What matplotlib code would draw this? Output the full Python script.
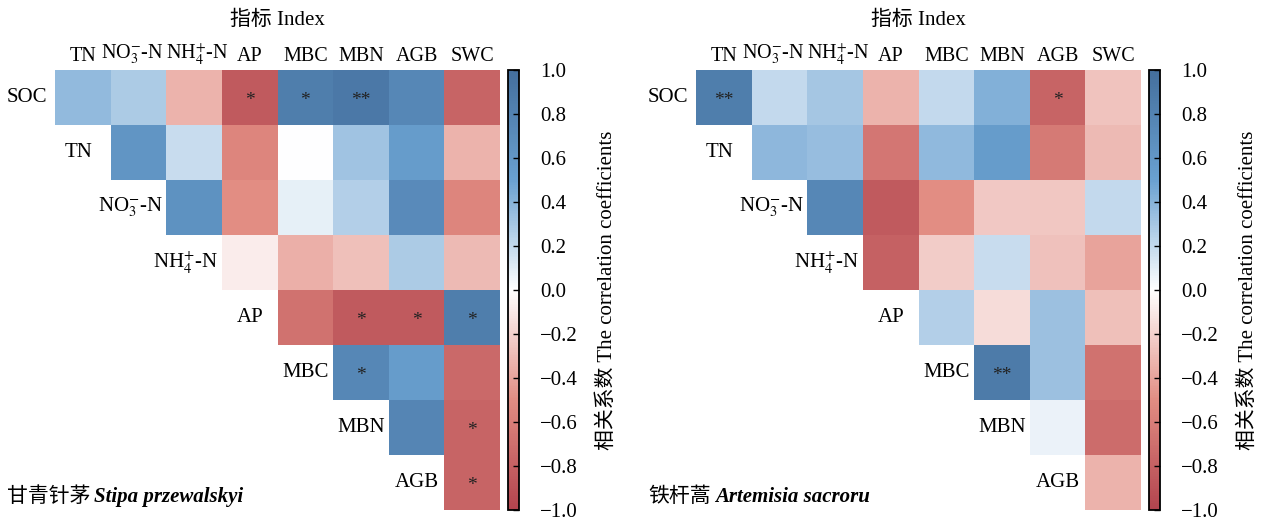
import matplotlib
matplotlib.use("Agg")
import matplotlib.pyplot as plt
import matplotlib.transforms as mtransforms
import numpy as np
from matplotlib.colors import LinearSegmentedColormap

plt.rcParams['font.family'] = ['Liberation Serif', 'Noto Sans CJK SC']
plt.rcParams['mathtext.fontset'] = 'stix'

# column / row names
cols = ['TN', 'NO$_3^{-}$-N', 'NH$_4^{+}$-N', 'AP', 'MBC', 'MBN', 'AGB', 'SWC']
rows = ['SOC', 'TN', 'NO$_3^{-}$-N', 'NH$_4^{+}$-N', 'AP', 'MBC', 'MBN', 'AGB']
ticks = [-1.0, -0.8, -0.6, -0.4, -0.2, 0.0, 0.2, 0.4, 0.6, 0.8, 1.0]

# upper triangle values, row i starts at column i
stipa_r = [
    [0.36, 0.28, -0.33, -0.85, 0.85, 0.90, 0.75, -0.78],
    [0.62, 0.18, -0.55, 0.00, 0.32, 0.55, -0.33],
    [0.65, -0.50, 0.08, 0.25, 0.72, -0.55],
    [-0.08, -0.35, -0.28, 0.28, -0.30],
    [-0.68, -0.85, -0.85, 0.85],
    [0.75, 0.55, -0.75],
    [0.78, -0.78],
    [-0.78],
]
stipa_sig = [
    ['', '', '', '*', '*', '**', '', ''],
    ['', '', '', '', '', '', ''],
    ['', '', '', '', '', ''],
    ['', '', '', '', ''],
    ['', '*', '*', '*'],
    ['*', '', ''],
    ['', '*'],
    ['*'],
]

artem_r = [
    [0.85, 0.20, 0.30, -0.33, 0.20, 0.42, -0.78, -0.26],
    [0.38, 0.35, -0.65, 0.37, 0.55, -0.63, -0.30],
    [0.75, -0.85, -0.50, -0.24, -0.25, 0.20],
    [-0.80, -0.22, 0.18, -0.27, -0.40],
    [0.25, -0.15, 0.33, -0.28],
    [0.88, 0.33, -0.68],
    [0.07, -0.72],
    [-0.33],
]
artem_sig = [
    ['**', '', '', '', '', '', '*', ''],
    ['', '', '', '', '', '', ''],
    ['', '', '', '', '', ''],
    ['', '', '', '', ''],
    ['', '', '', ''],
    ['**', '', ''],
    ['', ''],
    [''],
]

cmap = LinearSegmentedColormap.from_list('corr', [
    (0.0, '#b2444e'), (0.25, '#e28d83'), (0.5, '#ffffff'),
    (0.75, '#6aa1d1'), (1.0, '#446f9d')])

fig = plt.figure(figsize=(12.61, 5.2), dpi=100)
W, H = 1261, 520
label_shift = [0, -6, 3, 0, 0, 0, 0, 0]   # px nudge of crowded column labels
row_off = [0.5, 0.57, 0.65, 0.65, 0.5, 0.5, 0.5, 0.5]  # row label centre, cells left of diagonal


def panel(x0, r, sig, name_cn, name_lat):
    n = len(cols)
    mat = np.full((n, n), np.nan)
    for i, vals in enumerate(r):
        for k, v in enumerate(vals):
            mat[i, i + k] = v
    ax = fig.add_axes([x0 / W, 10 / H, 445 / W, 440 / H])
    m = ax.pcolormesh(np.ma.masked_invalid(mat), cmap=cmap, vmin=-1, vmax=1,
                      linewidth=0)
    ax.set_xlim(0, n)
    ax.set_ylim(n, 0)
    for s in ax.spines.values():
        s.set_visible(False)
    ax.xaxis.tick_top()
    ax.set_xticks(np.arange(n) + 0.5)
    ax.set_xticklabels(cols, fontsize=14.5)
    ax.tick_params(axis='x', length=0, pad=3)
    for lab, dx in zip(ax.get_xticklabels(), label_shift):
        lab.set_transform(lab.get_transform() +
                          mtransforms.ScaledTranslation(dx / 100, 0, fig.dpi_scale_trans))
    ax.set_yticks([])
    for i, lab in enumerate(rows):
        ax.text(i - row_off[i], i + 0.5, lab, ha='center', va='center', fontsize=15)
        for k, s in enumerate(sig[i]):
            if s:
                ax.text(i + k + 0.5, i + 0.55, s, ha='center', va='center',
                        fontsize=14, color='#222222')
    fig.text((x0 + 222) / W, 1 - 20 / H, '指标 Index', ha='center', va='center', fontsize=15)

    cax = fig.add_axes([(x0 + 453) / W, 10 / H, 11 / W, 440 / H])
    cb = fig.colorbar(m, cax=cax)
    cb.set_ticks(ticks)
    cb.ax.set_yticklabels([f'{t:.1f}'.replace('-', '−') for t in ticks])
    cb.ax.tick_params(direction='in', length=4, width=1, labelsize=15, pad=15)
    cb.outline.set_linewidth(1.3)
    cb.set_label('相关系数 The correlation coefficients', fontsize=15, labelpad=14)

    t1 = fig.text((x0 - 48) / W, 1 - 497 / H, name_cn, ha='left', va='center', fontsize=15)
    fig.canvas.draw()
    bb = t1.get_window_extent()
    fig.text((bb.x1 + 4) / W, 1 - 497 / H, name_lat, ha='left', va='center', fontsize=15,
             style='italic', weight='bold')


panel(55, stipa_r, stipa_sig, '甘青针茅', 'Stipa przewalskyi')
panel(696, artem_r, artem_sig, '铁杆蒿', 'Artemisia sacroru')

fig.savefig('out.png', dpi=100)
